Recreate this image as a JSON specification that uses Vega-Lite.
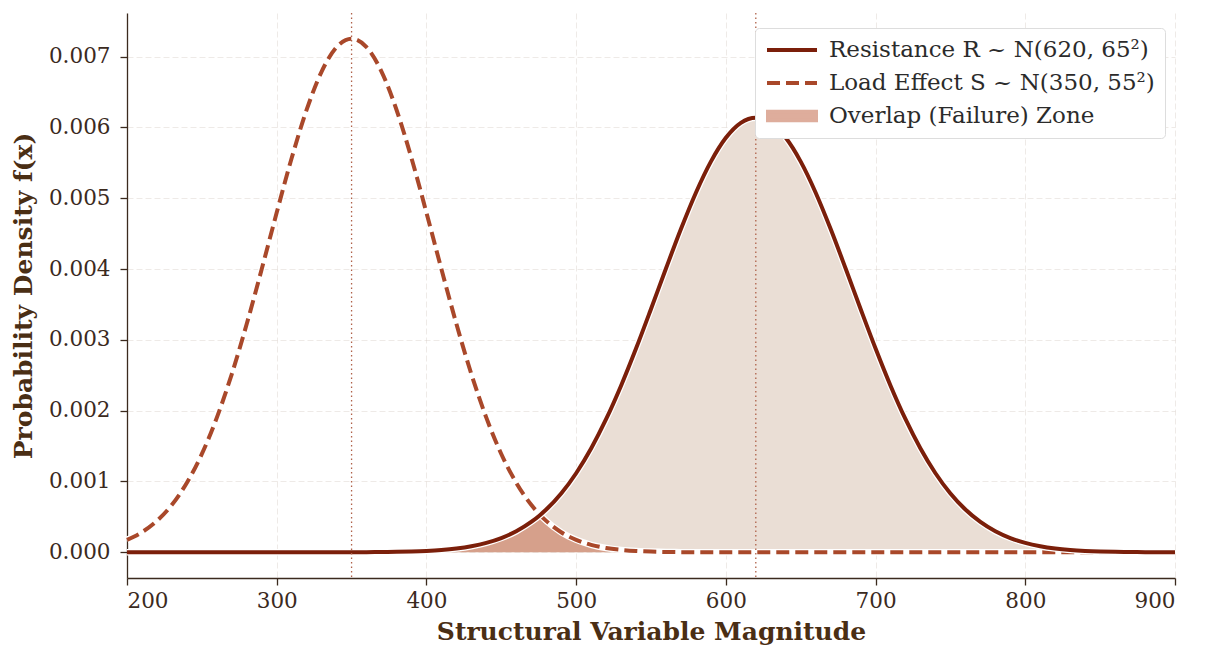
{
  "$schema": "https://vega.github.io/schema/vega-lite/v6.json",
  "width": 1048,
  "height": 565,
  "autosize": {"type": "none"},
  "padding": {"left": 127, "top": 13, "right": 30, "bottom": 72},
  "background": "white",
  "config": {
    "view": {"stroke": null},
    "font": "DejaVu Serif",
    "axis": {
      "labelFont": "DejaVu Serif",
      "labelFontSize": 21.5,
      "labelColor": "#3b2a1e",
      "titleFont": "DejaVu Serif",
      "titleFontSize": 25,
      "titleFontWeight": "bold",
      "titleColor": "#4a2e14",
      "domainColor": "#3b2a1e",
      "domainWidth": 1.3,
      "tickColor": "#3b2a1e",
      "tickWidth": 1.3,
      "tickSize": 7,
      "gridColor": "#cfc3ba",
      "gridDash": [6, 3],
      "gridOpacity": 0.35,
      "gridWidth": 1
    }
  },
  "data": {
    "values": [
      {"x": 200, "R": 0, "S": 0.000176, "O": 0},
      {"x": 210, "R": 0, "S": 0.000284, "O": 0},
      {"x": 220, "R": 0, "S": 0.000444, "O": 0},
      {"x": 230, "R": 0, "S": 0.000671, "O": 0},
      {"x": 240, "R": 0, "S": 0.000982, "O": 0},
      {"x": 250, "R": 0, "S": 0.001389, "O": 0},
      {"x": 260, "R": 0, "S": 0.001902, "O": 0},
      {"x": 270, "R": 0, "S": 0.002518, "O": 0},
      {"x": 280, "R": 0, "S": 0.003227, "O": 0},
      {"x": 290, "R": 0, "S": 0.004001, "O": 0},
      {"x": 300, "R": 0, "S": 0.004798, "O": 0},
      {"x": 310, "R": 0, "S": 0.005568, "O": 0},
      {"x": 320, "R": 0, "S": 0.006251, "O": 0},
      {"x": 330, "R": 0.0000003, "S": 0.006790, "O": 0.0000003},
      {"x": 340, "R": 0.0000006, "S": 0.007135, "O": 0.0000006},
      {"x": 350, "R": 0.0000011, "S": 0.007254, "O": 0.0000011},
      {"x": 360, "R": 0.0000021, "S": 0.007135, "O": 0.0000021},
      {"x": 370, "R": 0.0000038, "S": 0.006790, "O": 0.0000038},
      {"x": 380, "R": 0.0000067, "S": 0.006251, "O": 0.0000067},
      {"x": 390, "R": 0.0000117, "S": 0.005568, "O": 0.0000117},
      {"x": 400, "R": 0.0000200, "S": 0.004798, "O": 0.0000200},
      {"x": 410, "R": 0.0000332, "S": 0.004001, "O": 0.0000332},
      {"x": 420, "R": 0.0000540, "S": 0.003227, "O": 0.0000540},
      {"x": 430, "R": 0.0000857, "S": 0.002518, "O": 0.0000857},
      {"x": 440, "R": 0.0001327, "S": 0.001902, "O": 0.0001327},
      {"x": 450, "R": 0.0002008, "S": 0.001389, "O": 0.0002008},
      {"x": 460, "R": 0.0002967, "S": 0.000982, "O": 0.0002967},
      {"x": 470, "R": 0.0004283, "S": 0.000671, "O": 0.0004283},
      {"x": 476, "R": 0.0005277, "S": 0.0005259, "O": 0.0005259},
      {"x": 480, "R": 0.0006035, "S": 0.000444, "O": 0.000444},
      {"x": 490, "R": 0.0008306, "S": 0.000284, "O": 0.000284},
      {"x": 500, "R": 0.0011166, "S": 0.000176, "O": 0.000176},
      {"x": 510, "R": 0.0014659, "S": 0.0001054, "O": 0.0001054},
      {"x": 520, "R": 0.0018795, "S": 0.0000611, "O": 0.0000611},
      {"x": 530, "R": 0.0023533, "S": 0.0000343, "O": 0.0000343},
      {"x": 540, "R": 0.0028779, "S": 0.0000186, "O": 0.0000186},
      {"x": 550, "R": 0.0034368, "S": 0.0000098, "O": 0.0000098},
      {"x": 560, "R": 0.0040084, "S": 0.0000050, "O": 0.0000050},
      {"x": 570, "R": 0.0045658, "S": 0.0000024, "O": 0.0000024},
      {"x": 580, "R": 0.0050789, "S": 0.0000012, "O": 0.0000012},
      {"x": 590, "R": 0.0055175, "S": 0.0000005, "O": 0.0000005},
      {"x": 600, "R": 0.0058538, "S": 0.0000002, "O": 0.0000002},
      {"x": 610, "R": 0.0060654, "S": 0, "O": 0},
      {"x": 620, "R": 0.0061376, "S": 0, "O": 0},
      {"x": 630, "R": 0.0060654, "S": 0, "O": 0},
      {"x": 640, "R": 0.0058538, "S": 0, "O": 0},
      {"x": 650, "R": 0.0055175, "S": 0, "O": 0},
      {"x": 660, "R": 0.0050789, "S": 0, "O": 0},
      {"x": 670, "R": 0.0045658, "S": 0, "O": 0},
      {"x": 680, "R": 0.0040084, "S": 0, "O": 0},
      {"x": 690, "R": 0.0034368, "S": 0, "O": 0},
      {"x": 700, "R": 0.0028779, "S": 0, "O": 0},
      {"x": 710, "R": 0.0023533, "S": 0, "O": 0},
      {"x": 720, "R": 0.0018795, "S": 0, "O": 0},
      {"x": 730, "R": 0.0014659, "S": 0, "O": 0},
      {"x": 740, "R": 0.0011166, "S": 0, "O": 0},
      {"x": 750, "R": 0.0008306, "S": 0, "O": 0},
      {"x": 760, "R": 0.0006035, "S": 0, "O": 0},
      {"x": 770, "R": 0.0004283, "S": 0, "O": 0},
      {"x": 780, "R": 0.0002967, "S": 0, "O": 0},
      {"x": 790, "R": 0.0002008, "S": 0, "O": 0},
      {"x": 800, "R": 0.0001327, "S": 0, "O": 0},
      {"x": 810, "R": 0.0000857, "S": 0, "O": 0},
      {"x": 820, "R": 0.0000540, "S": 0, "O": 0},
      {"x": 830, "R": 0.0000332, "S": 0, "O": 0},
      {"x": 840, "R": 0.0000200, "S": 0, "O": 0},
      {"x": 850, "R": 0.0000117, "S": 0, "O": 0},
      {"x": 860, "R": 0.0000067, "S": 0, "O": 0},
      {"x": 870, "R": 0.0000038, "S": 0, "O": 0},
      {"x": 880, "R": 0.0000021, "S": 0, "O": 0},
      {"x": 890, "R": 0.0000011, "S": 0, "O": 0},
      {"x": 900, "R": 0.0000006, "S": 0, "O": 0}
    ]
  },
  "encoding": {
    "x": {
      "field": "x",
      "type": "quantitative",
      "scale": {"domain": [200, 900], "nice": false, "zero": false},
      "axis": {"title": "Structural Variable Magnitude", "values": [200, 300, 400, 500, 600, 700, 800, 900], "labelPadding": 5, "titlePadding": 8, "grid": true}
    }
  },
  "layer": [
    {
      "mark": {"type": "area", "color": "#eaded5", "interpolate": "monotone"},
      "encoding": {
        "y": {
          "field": "R",
          "type": "quantitative",
          "scale": {"domain": [-0.000363, 0.007617], "nice": false, "zero": false},
          "axis": {"title": "Probability Density f(x)", "values": [0, 0.001, 0.002, 0.003, 0.004, 0.005, 0.006, 0.007], "format": ".3f", "labelPadding": 10, "titlePadding": 12, "grid": true}
        }
      }
    },
    {
      "mark": {"type": "area", "opacity": 0.6, "interpolate": "monotone"},
      "encoding": {
        "y": {"field": "O", "type": "quantitative"},
        "color": {"datum": "Overlap (Failure) Zone"}
      }
    },
    {
      "mark": {"type": "line", "color": "white", "strokeWidth": 6.5, "interpolate": "monotone"},
      "encoding": {"y": {"field": "S", "type": "quantitative"}}
    },
    {
      "mark": {"type": "line", "strokeWidth": 4, "strokeDash": [13, 6], "interpolate": "monotone"},
      "encoding": {
        "y": {"field": "S", "type": "quantitative"},
        "color": {"datum": "Load Effect S ~ N(350, 55²)"}
      }
    },
    {
      "mark": {"type": "line", "color": "white", "strokeWidth": 6.5, "interpolate": "monotone"},
      "encoding": {"y": {"field": "R", "type": "quantitative"}}
    },
    {
      "mark": {"type": "line", "strokeWidth": 4, "interpolate": "monotone"},
      "encoding": {
        "y": {"field": "R", "type": "quantitative"},
        "color": {
          "datum": "Resistance R ~ N(620, 65²)",
          "scale": {
            "domain": ["Resistance R ~ N(620, 65²)", "Load Effect S ~ N(350, 55²)", "Overlap (Failure) Zone"],
            "range": ["#7b1f0a", "#a9482a", "#c8775a"]
          },
          "legend": {
            "title": null,
            "orient": "none",
            "legendX": 628,
            "legendY": 15,
            "fillColor": "white",
            "strokeColor": "#dddddd",
            "cornerRadius": 4,
            "padding": 10,
            "labelFont": "DejaVu Serif",
            "labelFontSize": 23,
            "labelColor": "#2b2b2b",
            "labelLimit": 0,
            "labelOffset": 10,
            "symbolOffset": 0,
            "symbolSize": 400,
            "symbolStrokeWidth": 4,
            "clipHeight": 24,
            "rowPadding": 9,
            "encode": {
              "symbols": {
                "update": {
                  "size": {"value": 2500},
                  "shape": {"signal": "datum.value === 'Overlap (Failure) Zone' ? 'M-0.96,-0.17H0.96V0.17H-0.96Z' : 'stroke'"},
                  "fill": {"signal": "datum.value === 'Overlap (Failure) Zone' ? '#c8775a' : 'transparent'"},
                  "stroke": {"signal": "datum.value === 'Overlap (Failure) Zone' ? 'transparent' : (datum.value === 'Load Effect S ~ N(350, 55²)' ? '#a9482a' : '#7b1f0a')"},
                  "strokeDash": {"signal": "datum.value === 'Load Effect S ~ N(350, 55²)' ? [13, 6] : []"},
                  "strokeWidth": {"value": 4},
                  "opacity": {"signal": "datum.value === 'Overlap (Failure) Zone' ? 0.6 : 1"}
                }
              }
            }
          }
        }
      }
    },
    {
      "data": {"values": [{"m": 350}, {"m": 620}]},
      "mark": {"type": "rule", "color": "#b0624a", "strokeWidth": 1.3, "strokeDash": [1.5, 3]},
      "encoding": {"x": {"field": "m", "type": "quantitative"}}
    }
  ]
}
